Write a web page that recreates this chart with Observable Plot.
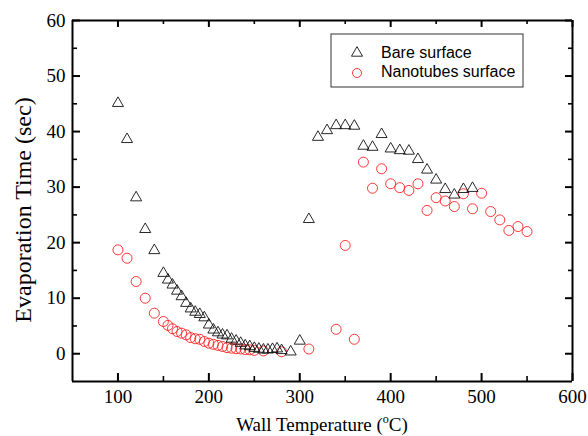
<!DOCTYPE html>
<html>
<head>
<meta charset="utf-8">
<script src="https://cdn.jsdelivr.net/npm/d3@7"></script>
<script src="https://cdn.jsdelivr.net/npm/@observablehq/plot@0.6"></script>
<style>
  html, body { margin: 0; padding: 0; background: white; }
</style>
</head>
<body>
<div id="chart"></div>
<script>
// Bare surface (triangles)
const bareTemp = [100,110,120,130,140,150,155,160,165,170,175,180,185,190,195,200,205,210,215,220,225,230,235,240,245,250,255,260,265,270,275,280,290,300,310,320,330,340,350,360,370,380,390,400,410,420,430,440,450,460,470,480,490];
const bareTime = [45.1,38.6,28.1,22.4,18.6,14.5,13.3,12.4,11.3,10.3,9.1,8.1,7.5,7.1,6.5,5.2,4.3,3.8,3.4,3.25,2.65,2.3,1.9,1.45,1.3,1.0,0.85,0.7,0.7,0.8,0.9,0.6,0.35,2.3,24.2,39.0,40.2,41.1,41.1,41.0,37.4,37.2,39.5,36.9,36.6,36.5,35.0,33.1,31.3,29.6,28.6,29.6,29.8];
// Nanotubes surface (circles)
const nanoTemp = [100,110,120,130,140,150,155,160,165,170,175,180,185,190,195,200,205,210,215,220,225,230,235,240,245,250,260,280,310,340,350,360,370,380,390,400,410,420,430,440,450,460,470,480,490,500,510,520,530,540,550];
const nanoTime = [18.7,17.2,13,10,7.3,5.8,5.1,4.5,4.0,3.7,3.4,2.9,2.7,2.6,2.2,1.9,1.7,1.5,1.3,1.1,1.0,0.9,0.85,0.75,0.7,0.6,0.5,0.35,0.85,4.4,19.5,2.6,34.5,29.8,33.3,30.6,29.9,29.4,30.6,25.8,28.1,27.5,26.5,28.8,26.1,28.9,25.6,24.1,22.2,22.9,22.0];

const xMajor = [100,200,300,400,500,600];
const xMinor = [150,250,350,450,550];
const yMajor = [0,10,20,30,40,50,60];
const yMinor = [5,15,25,35,45,55];
const seriesNames = ["Bare surface", "Nanotubes surface"];

const bare = bareTemp.map((t,i) => ({t, v: bareTime[i]}));
const nano = nanoTemp.map((t,i) => ({t, v: nanoTime[i]}));

const W = 588, H = 436, mL = 72, mR = 16, mT = 20, mB = 55;
const fw = W - mL - mR, fh = H - mT - mB;
const xd = [50, 600], yd = [-5, 60];
const ux = (xd[1] - xd[0]) / fw;   // data units per pixel
const uy = (yd[1] - yd[0]) / fh;
const serif = "'Liberation Serif', 'Times New Roman', serif";

const tickRulesX = (vals, len, atTop, sw) => Plot.ruleX(vals, {
  x: d => d,
  y1: atTop ? yd[1] : yd[0],
  y2: atTop ? yd[1] - len * uy : yd[0] + len * uy,
  stroke: "black", strokeWidth: sw
});
const tickRulesY = (vals, len, atRight, sw) => Plot.ruleY(vals, {
  y: d => d,
  x1: atRight ? xd[1] : xd[0],
  x2: atRight ? xd[1] - len * ux : xd[0] + len * ux,
  stroke: "black", strokeWidth: sw
});

const plot = Plot.plot({
  width: W, height: H,
  marginLeft: mL, marginRight: mR, marginTop: mT, marginBottom: mB,
  style: {fontFamily: serif, background: "white"},
  x: {domain: xd},
  y: {domain: yd},
  axis: null,
  marks: [
    Plot.dot(nano, {x: "t", y: "v", r: 5, stroke: "#ff2020", strokeWidth: 0.9, fill: "none"}),
    Plot.dot(bare, {x: "t", y: "v", symbol: "triangle", r: 4.1, stroke: "#111", strokeWidth: 0.9, fill: "none"}),
    tickRulesX(xMajor, 8, false, 2),
    tickRulesX(xMinor, 5, false, 1.6),
    tickRulesX(xMajor, 7, true, 2),
    tickRulesX(xMinor, 4, true, 1.6),
    tickRulesY(yMajor, 8, false, 2),
    tickRulesY(yMinor, 5, false, 1.6),
    tickRulesY(yMajor, 7, true, 2),
    tickRulesY(yMinor, 4, true, 1.6),
    Plot.ruleX(xd, {x: d => d, y1: yd[0], y2: yd[1], stroke: "black", strokeWidth: 2}),
    Plot.ruleY(yd, {y: d => d, x1: xd[0], x2: xd[1], stroke: "black", strokeWidth: 2}),
    Plot.text(xMajor, {x: d => d, frameAnchor: "bottom", lineAnchor: "top", dy: 8, fontSize: 19, fill: "black", text: d => String(d)}),
    Plot.text(yMajor, {y: d => d, frameAnchor: "left", textAnchor: "end", dx: -7, fontSize: 19, fill: "black", text: d => String(d)})
  ]
});

const svg = d3.select(plot);

// Y axis label
svg.append("text")
  .attr("transform", "translate(31,210) rotate(-90)")
  .attr("text-anchor", "middle")
  .attr("font-family", serif)
  .attr("font-size", 24)
  .attr("fill", "black")
  .text("Evaporation Time (sec)");

// X axis label with superscript
const xl = svg.append("text")
  .attr("x", mL + fw / 2)
  .attr("y", 431)
  .attr("text-anchor", "middle")
  .attr("font-family", serif)
  .attr("font-size", 19)
  .attr("fill", "black");
xl.append("tspan").text("Wall Temperature (");
xl.append("tspan").attr("font-size", 12).attr("dy", -8).text("o");
xl.append("tspan").attr("dy", 8).text("C)");

// Legend
const lg = svg.append("g").attr("transform", "translate(331,34)");
lg.append("rect").attr("width", 192).attr("height", 53)
  .attr("fill", "white").attr("stroke", "#333").attr("stroke-width", 1);
lg.append("path")
  .attr("d", d3.symbol(d3.symbolTriangle, Math.PI * 4.1 * 4.1)())
  .attr("transform", "translate(26,19)")
  .attr("fill", "none").attr("stroke", "#111").attr("stroke-width", 0.9);
lg.append("circle").attr("cx", 26).attr("cy", 39).attr("r", 4.5)
  .attr("fill", "none").attr("stroke", "#ff2020").attr("stroke-width", 0.9);
lg.selectAll("text.lbl").data(seriesNames).join("text")
  .attr("class", "lbl")
  .attr("x", 50)
  .attr("y", (d, i) => 24 + i * 19)
  .attr("text-anchor", "start")
  .attr("font-family", "'Liberation Sans', Arial, sans-serif")
  .attr("font-size", 16)
  .attr("fill", "black")
  .text(d => d);

document.getElementById("chart").appendChild(plot);
</script>
</body>
</html>
